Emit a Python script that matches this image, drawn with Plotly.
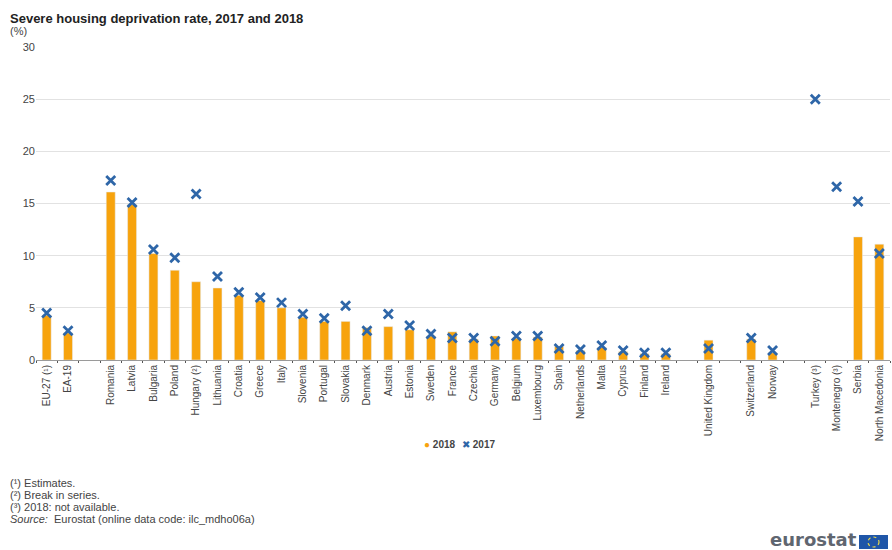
import plotly.graph_objects as go

categories = ["EU-27 (¹)", "EA-19", " ", "Romania", "Latvia", "Bulgaria", "Poland", "Hungary (²)", "Lithuania",
              "Croatia", "Greece", "Italy", "Slovenia", "Portugal", "Slovakia", "Denmark", "Austria", "Estonia",
              "Sweden", "France", "Czechia", "Germany", "Belgium", "Luxembourg", "Spain", "Netherlands", "Malta",
              "Cyprus", "Finland", "Ireland", "  ", "United Kingdom", "   ", "Switzerland", "Norway", "    ",
              "Turkey (³)", "Montenegro (³)", "Serbia", "North Macedonia"]
values_2018 = [4.3, 2.6, None, 16.1, 14.9, 10.2, 8.6, 7.5, 6.9, 6.2, 5.7, 5.0, 4.1, 3.7, 3.7, 3.1, 3.2, 2.9,
               2.3, 2.7, 2.0, 2.3, 2.1, 2.2, 1.3, 0.9, 1.2, 0.8, 0.6, 0.6, None, 1.9, None, 2.0, 0.7, None,
               None, None, 11.8, 11.1]
values_2017 = [4.5, 2.8, None, 17.2, 15.1, 10.6, 9.8, 15.9, 8.0, 6.5, 6.0, 5.5, 4.4, 4.0, 5.2, 2.8, 4.4, 3.3,
               2.5, 2.1, 2.1, 1.8, 2.3, 2.3, 1.1, 1.0, 1.4, 0.9, 0.7, 0.7, None, 1.1, None, 2.1, 0.9, None,
               25.0, 16.6, 15.2, 10.2]
y_ticks = [0, 5, 10, 15, 20, 25, 30]
title = "Severe housing deprivation rate, 2017 and 2018"
unit = "(%)"
footnotes = ["(¹) Estimates.", "(²) Break in series.", "(³) 2018: not available.",
             "<i>Source:</i>  Eurostat (online data code: ilc_mdho06a)"]

FONT = "Liberation Sans"
W, H = 892, 550
L, R, T, B = 36, 2, 47, 190
PW, PH = W - L - R, H - T - B
px = lambda x: (x - L) / PW
py = lambda y: (H - B - y) / PH

fig = go.Figure()
fig.add_bar(x=categories, y=values_2018, name="2018", marker_color="#f7a30d", width=0.42, showlegend=False)
fig.add_scatter(x=categories, y=values_2017, name="2017", mode="markers", cliponaxis=False, showlegend=False,
                marker=dict(symbol="x-thin", size=9, color="#2e66a8", line=dict(width=2.8, color="#2e66a8")))

def text(x, y, s, size=9, color="#444444", family=FONT, **kw):
    fig.add_annotation(x=px(x), y=py(y), xref="paper", yref="paper", text=s, showarrow=False,
                       xanchor=kw.pop("xanchor", "left"), yanchor="middle", xshift=0, borderpad=0, borderwidth=0,
                       font=dict(family=family, size=size, color=color), **kw)

text(10, 18, "<b>" + title + "</b>", size=13, color="#222222")
text(10, 31, unit, size=11)
for i, line in enumerate(footnotes):
    text(10, 483 + i * 12, line, size=11)

# legend
text(424, 444, "<span style='color:#f7a30d'>●</span> <b>2018</b>", size=10)
text(462, 444, "<span style='color:#2e66a8'>✖</span> <b>2017</b>", size=10)

# logo
text(857, 539, "<b>eurostat</b>", size=18, color="#5f6670", family="DejaVu Sans", xanchor="right")
fig.add_shape(type="rect", xref="paper", yref="paper", x0=px(859), x1=px(888), y0=py(549), y1=py(535),
              fillcolor="#1f56a8", line_width=0)
fig.add_shape(type="circle", xref="paper", yref="paper", x0=px(868), x1=px(879), y0=py(547), y1=py(537),
              line=dict(color="#e8d84a", width=1.2, dash="dot"))

fig.update_layout(
    width=W, height=H, margin=dict(l=L, r=R, t=T, b=B),
    paper_bgcolor="white", plot_bgcolor="white", showlegend=False,
    font=dict(family=FONT, size=10, color="#444444"),
    xaxis=dict(type="category", categoryorder="array", categoryarray=categories, tickmode="array",
               tickvals=categories, ticktext=categories, tickangle=-90, tickson="boundaries",
               ticks="outside", ticklen=2, tickcolor="#555555", linecolor="#9a9a9a", linewidth=1,
               showgrid=False, range=[-0.5, 39.5], automargin=False, tickfont=dict(size=10)),
    yaxis=dict(range=[0, 30], tickmode="array", tickvals=y_ticks, gridcolor="#e2e2e2", gridwidth=1,
               showline=False, zeroline=False, ticks="", automargin=False, tickfont=dict(size=11)),
)
fig.write_html("out.html", config={"displayModeBar": False}, post_script="document.body.style.margin='0';")
